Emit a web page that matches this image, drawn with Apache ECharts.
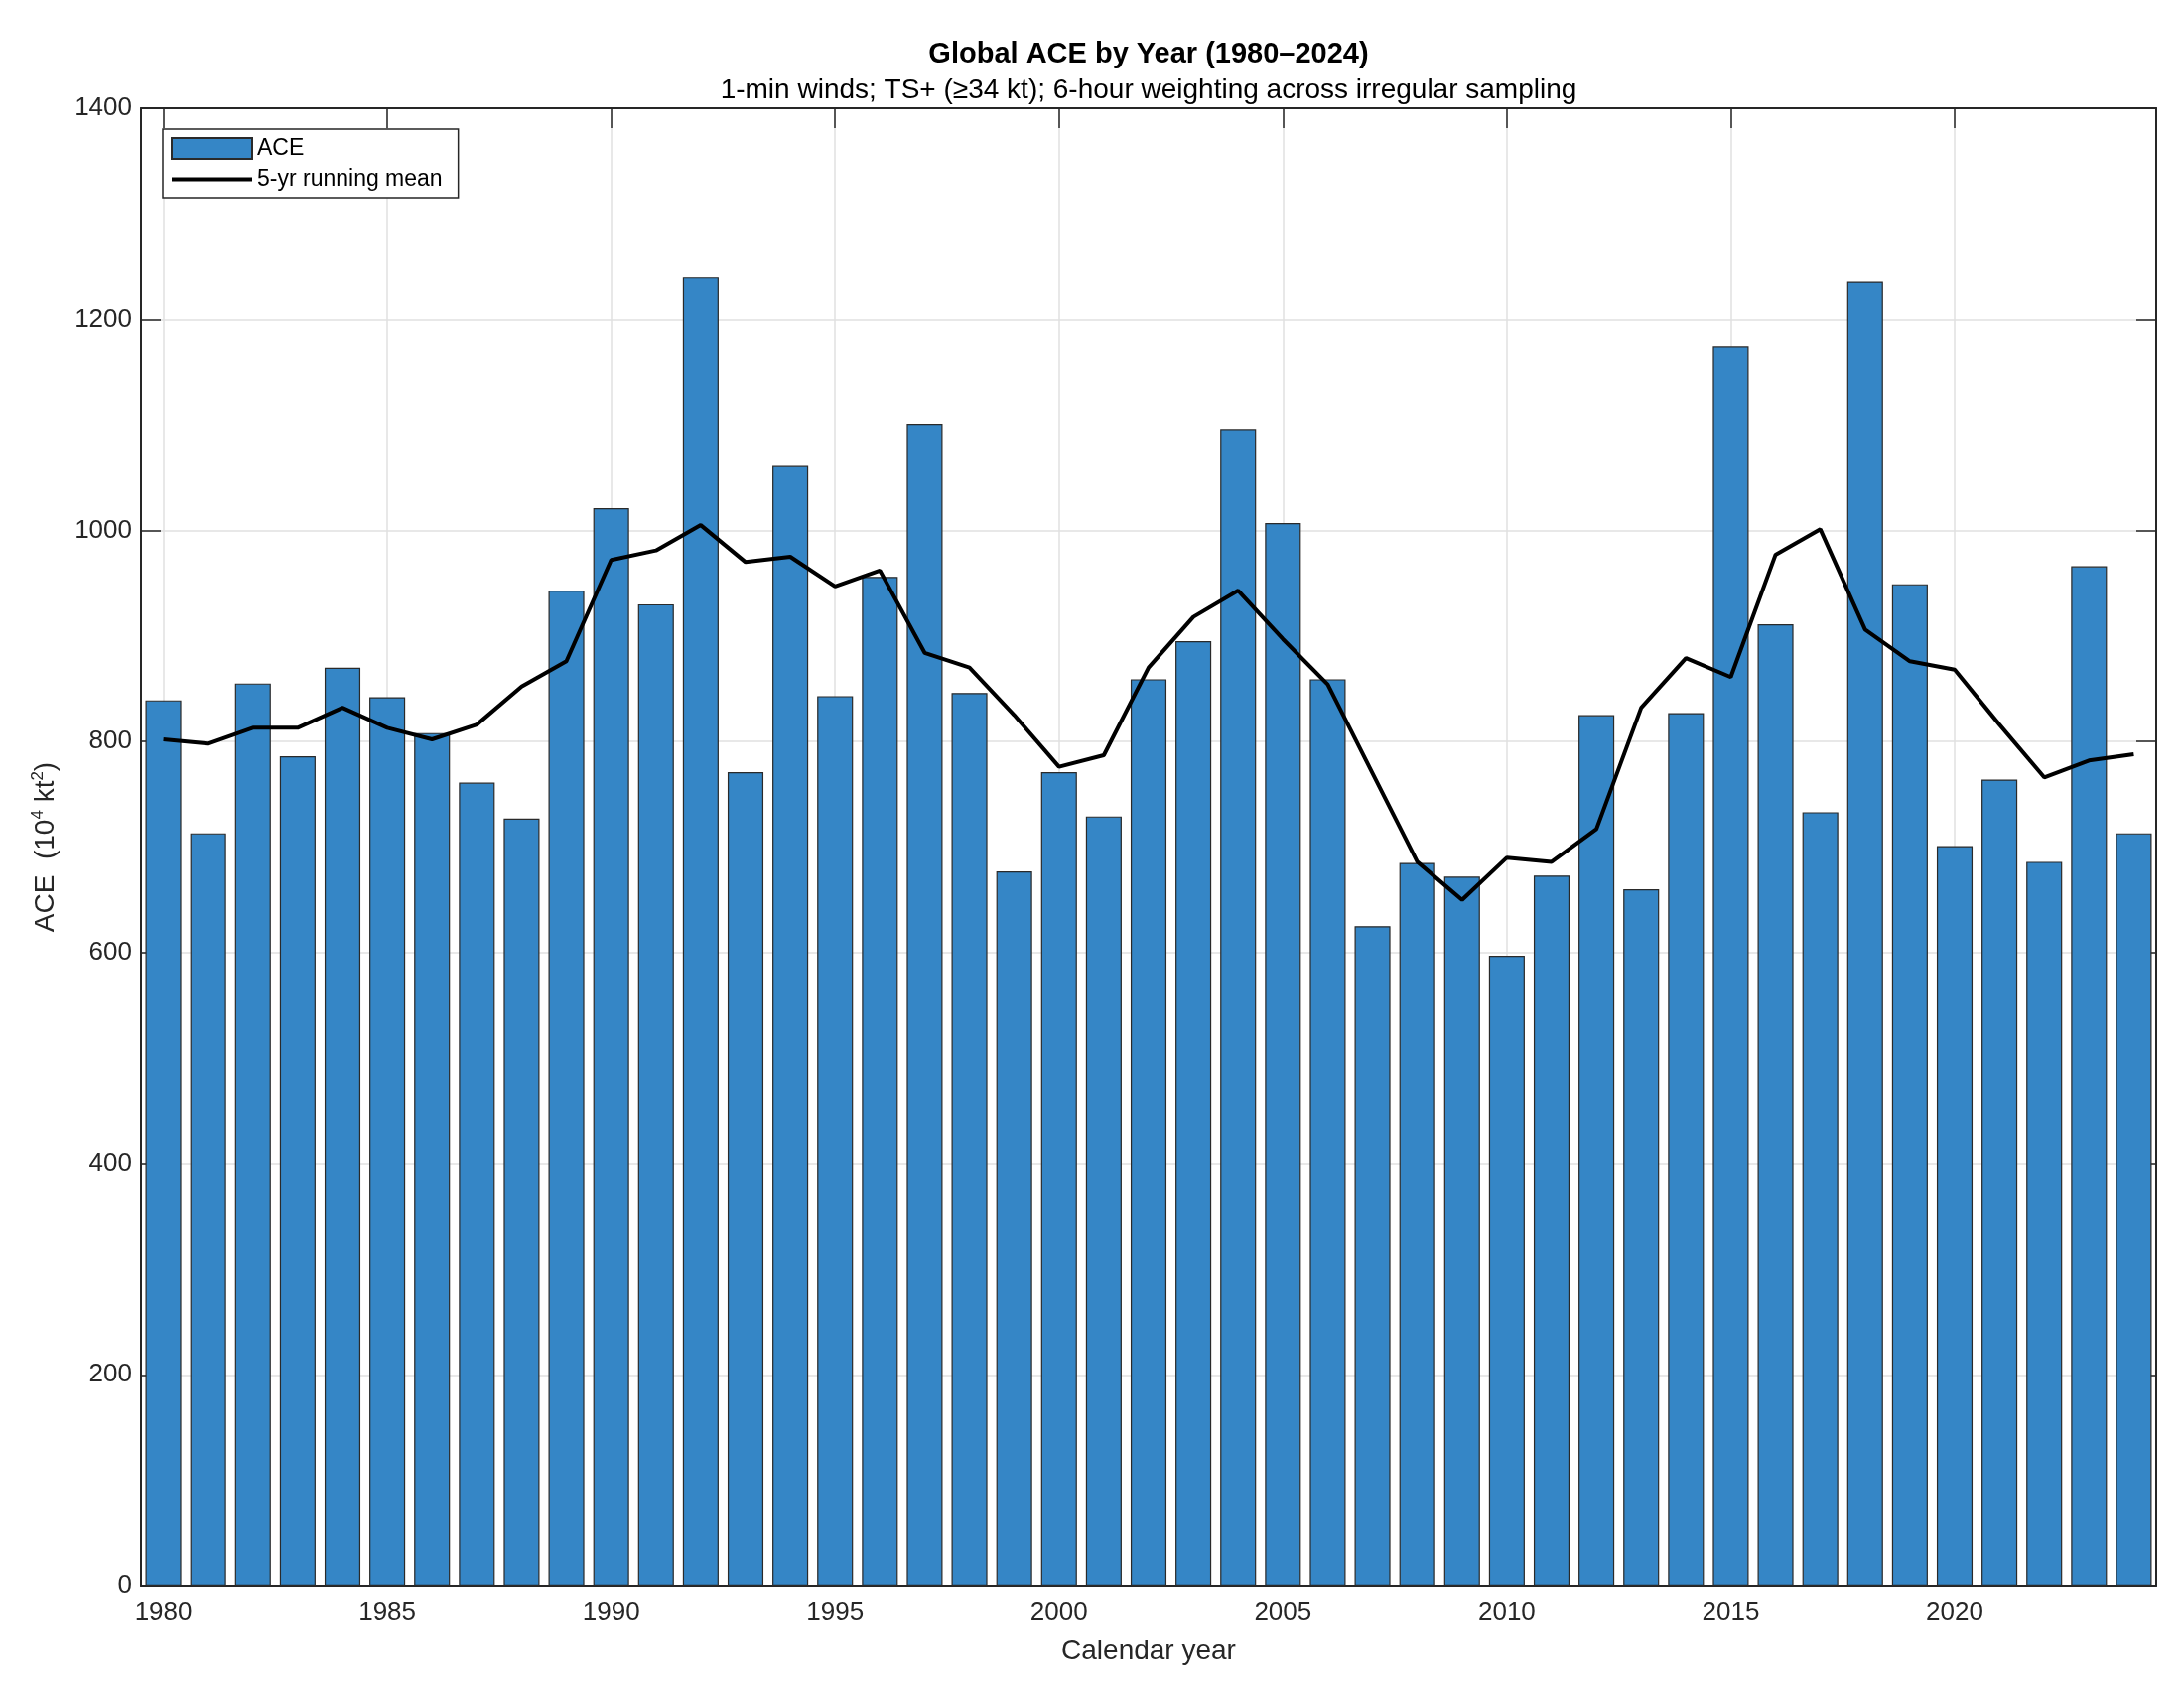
<!DOCTYPE html>
<html>
<head>
<meta charset="utf-8">
<script src="https://cdn.jsdelivr.net/npm/echarts@6.0.0/dist/echarts.min.js"></script>
<style>
  html, body { margin: 0; padding: 0; background: #ffffff; }
  #chart { width: 2200px; height: 1719px; }
</style>
</head>
<body>
<div id="chart"></div>
<script>
const years = [1980,1981,1982,1983,1984,1985,1986,1987,1988,1989,
               1990,1991,1992,1993,1994,1995,1996,1997,1998,1999,
               2000,2001,2002,2003,2004,2005,2006,2007,2008,2009,
               2010,2011,2012,2013,2014,2015,2016,2017,2018,2019,
               2020,2021,2022,2023,2024];
const aceValues = [839,713,855,786,870,842,808,761,727,943,
                   1021,930,1240,771,1061,843,956,1101,846,677,
                   771,729,859,895,1096,1007,859,625,685,672,
                   597,673,825,660,827,1174,911,733,1236,949,
                   701,764,686,966,713];
const runningMean = [802,798,813,813,832,813,802,816,852,876,
                     972,981,1005,970,975,947,962,884,870,825,
                     776,787,870,918,943,897,854,770,686,650,
                     690,686,717,832,879,861,977,1001,906,876,
                     868,816,766,782,788];
const xTicks = [1980,1985,1990,1995,2000,2005,2010,2015,2020];
const yTicks = [0,200,400,600,800,1000,1200,1400];

const FONT = '"Liberation Sans", Arial, Helvetica, sans-serif';
const AX = '#262626';
const GRID = '#e0e0e0';

const chart = echarts.init(document.getElementById('chart'), null, {renderer: 'canvas'});

const plain = v => String(v);

const xBase = {
  type: 'value', min: 1979.5, max: 2024.5,
  axisLine: {show: true, onZero: false, lineStyle: {color: AX, width: 2}},
  splitLine: {show: false}
};
const yBase = {
  type: 'value', min: yTicks[0], max: yTicks[yTicks.length - 1], interval: 200,
  axisLine: {show: true, onZero: false, lineStyle: {color: AX, width: 2}},
  axisTick: {show: true, inside: true, length: 20, lineStyle: {color: AX, width: 1.5}}
};

const option = {
  backgroundColor: '#ffffff',
  animation: false,
  textStyle: {fontFamily: FONT},
  grid: {left: 142, right: 28, top: 109, bottom: 121, outerBoundsMode: 'none', containLabel: false},
  graphic: [
    {type: 'text', x: 1157, y: 55, silent: true,
     style: {text: 'Global ACE by Year (1980–2024)', font: 'bold 29px ' + FONT, fill: '#000',
             textAlign: 'center', textVerticalAlign: 'middle'}},
    {type: 'text', x: 1157, y: 91, silent: true,
     style: {text: '1-min winds; TS+ (≥34 kt); 6-hour weighting across irregular sampling',
             font: '28px ' + FONT, fill: '#000', textAlign: 'center', textVerticalAlign: 'middle'}}
  ],
  legend: {
    data: [
      {name: 'ACE', icon: 'rect'},
      {name: '5-yr running mean', icon: 'path://M0,0 L81,0 L81,4 L0,4 Z'}
    ],
    orient: 'vertical',
    left: 164, top: 130,
    itemWidth: 81, itemHeight: 21, itemGap: 8,
    padding: [8, 16, 8, 8],
    backgroundColor: '#ffffff',
    borderColor: AX, borderWidth: 1.5, borderRadius: 0,
    textStyle: {fontSize: 23, color: '#000', fontFamily: FONT},
    selectedMode: false
  },
  xAxis: [
    Object.assign({}, xBase, {
      position: 'bottom',
      name: 'Calendar year', nameLocation: 'middle', nameGap: 52,
      nameTextStyle: {fontSize: 28, color: AX, fontFamily: FONT},
      axisTick: {show: true, inside: true, length: 20, customValues: xTicks, lineStyle: {color: AX, width: 1.5}},
      axisLabel: {show: true, customValues: xTicks, formatter: plain, fontSize: 26, color: AX, margin: 14, fontFamily: FONT}
    }),
    Object.assign({}, xBase, {
      position: 'top',
      axisTick: {show: true, inside: true, length: 20, customValues: xTicks, lineStyle: {color: AX, width: 1.5}},
      axisLabel: {show: false}
    })
  ],
  yAxis: [
    Object.assign({}, yBase, {
      position: 'left',
      name: '{a|ACE  (10}{s|4}{a| kt}{s|2}{a|)}', nameLocation: 'middle', nameGap: 80,
      nameTextStyle: {
        color: AX,
        rich: {
          a: {fontSize: 28, color: AX, fontFamily: FONT, lineHeight: 32},
          s: {fontSize: 17, color: AX, fontFamily: FONT, verticalAlign: 'top', lineHeight: 17}
        }
      },
      axisLabel: {show: true, formatter: plain, fontSize: 26, color: AX, margin: 9, fontFamily: FONT},
      splitLine: {show: true, lineStyle: {color: GRID, width: 1.5}}
    }),
    Object.assign({}, yBase, {
      position: 'right',
      axisLabel: {show: false},
      splitLine: {show: false}
    })
  ],
  series: [
    {
      name: 'xgrid', type: 'line', data: [], z: 0, silent: true,
      xAxisIndex: 0, yAxisIndex: 0,
      markLine: {
        silent: true, symbol: ['none', 'none'], animation: false, z: 0,
        label: {show: false},
        lineStyle: {color: GRID, type: 'solid', width: 1.5},
        data: xTicks.map(v => ({xAxis: v}))
      }
    },
    {
      name: 'ACE', type: 'bar', z: 2,
      xAxisIndex: 0, yAxisIndex: 0,
      data: years.map((y, i) => [y, aceValues[i]]),
      barWidth: '80%',
      itemStyle: {color: '#3586c6', borderColor: '#2a2a2a', borderWidth: 1.2}
    },
    {
      name: '5-yr running mean', type: 'line', z: 3,
      xAxisIndex: 0, yAxisIndex: 0,
      data: years.map((y, i) => [y, runningMean[i]]),
      symbol: 'none', showSymbol: false,
      lineStyle: {color: '#000000', width: 4},
      itemStyle: {color: '#000000'}
    }
  ]
};
chart.setOption(option);
</script>
</body>
</html>
